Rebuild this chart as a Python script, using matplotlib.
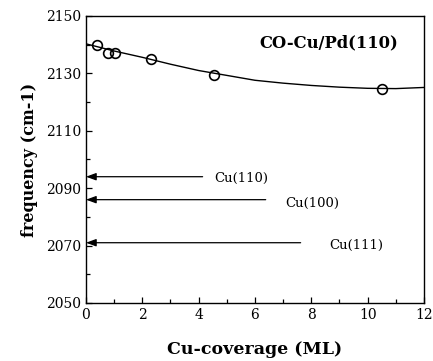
import matplotlib
matplotlib.use("Agg")
import matplotlib.pyplot as plt
from matplotlib.ticker import FixedLocator

# data
pts_x = [0.4, 0.78, 1.03, 2.3, 4.53, 10.5]
pts_y = [2140.0, 2137.0, 2137.0, 2135.0, 2129.5, 2124.7]
curve_x = [0, 1, 2, 3, 4, 5, 6, 7, 8, 9, 10, 11, 12]
curve_y = [2140.3, 2137.8, 2135.6, 2133.2, 2131.0, 2129.3, 2127.6, 2126.6,
           2125.8, 2125.2, 2124.8, 2124.7, 2125.1]
ref_labels = ["Cu(110)", "Cu(100)", "Cu(111)"]
ref_freq = [2094, 2086, 2071]
ref_line_end = [4.14, 6.38, 7.62]
ref_label_x = [4.55, 7.09, 8.63]
ref_label_dy = [-0.6, -1.4, -0.8]
x_major = [0, 2, 4, 6, 8, 10, 12]
x_minor = [1, 3, 5, 7, 9, 11]
y_major = [2050, 2070, 2090, 2110, 2130, 2150]
y_minor = [2060, 2080, 2100, 2120, 2140]

plt.rcParams['font.family'] = ['DejaVu Serif']
fig = plt.figure(figsize=(4.33, 3.61), dpi=100)
ax = fig.add_axes([0.1986, 0.1607, 0.7806, 0.795])

ax.plot(curve_x, curve_y, color='black', lw=1.0)
ax.plot(pts_x, pts_y, 'o', mfc='none', mec='black', ms=7, mew=1.2)

for lab, f, xe, xl, dy in zip(ref_labels, ref_freq, ref_line_end, ref_label_x, ref_label_dy):
    ax.annotate('', xy=(0.0, f), xytext=(xe, f),
                arrowprops=dict(arrowstyle='-|>,head_length=0.6,head_width=0.22',
                                color='black', lw=0.9, shrinkA=0, shrinkB=0))
    ax.text(xl, f + dy, lab, fontsize=9.5, va='center', ha='left')

ax.text(0.923, 0.906, 'CO-Cu/Pd(110)', transform=ax.transAxes, ha='right', va='center',
        fontsize=11.8, fontweight='bold')

ax.set_xlim(0, 12)
ax.set_ylim(2050, 2150)
ax.xaxis.set_major_locator(FixedLocator(x_major))
ax.xaxis.set_minor_locator(FixedLocator(x_minor))
ax.yaxis.set_major_locator(FixedLocator(y_major))
ax.yaxis.set_minor_locator(FixedLocator(y_minor))
ax.tick_params(which='both', direction='in', top=False, right=False, labelsize=10)
ax.tick_params(which='major', length=4, width=0.9)
ax.tick_params(which='minor', length=3, width=0.9)
for s in ax.spines.values():
    s.set_linewidth(1.0)

ax.set_xlabel('Cu-coverage (ML)', fontsize=12.5, fontweight='bold', labelpad=14)
ax.set_ylabel('frequency (cm-1)', fontsize=11.5, fontweight='bold', labelpad=6)

fig.savefig('out.png', dpi=100)
